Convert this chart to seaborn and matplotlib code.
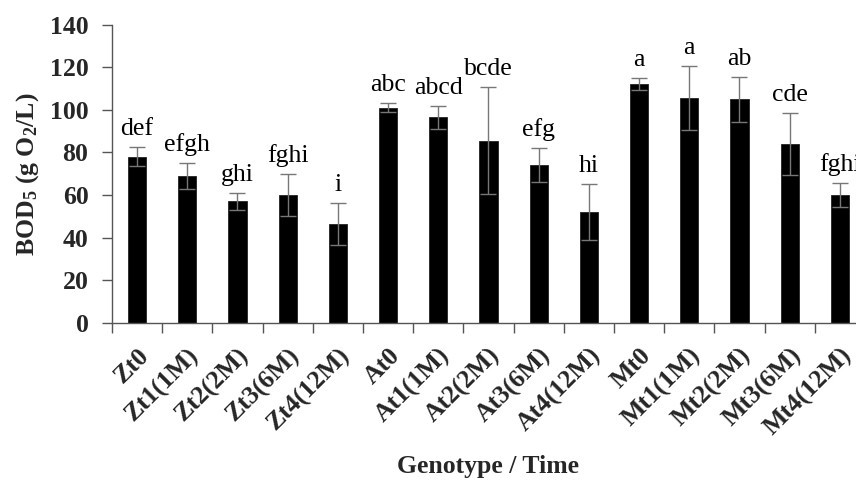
import matplotlib
matplotlib.use("Agg")
import matplotlib.pyplot as plt
import seaborn as sns
import numpy as np
import pandas as pd

# BOD5 by genotype and storage time
categories = ["Zt0", "Zt1(1M)", "Zt2(2M)", "Zt3(6M)", "Zt4(12M)",
              "At0", "At1(1M)", "At2(2M)", "At3(6M)", "At4(12M)",
              "Mt0", "Mt1(1M)", "Mt2(2M)", "Mt3(6M)", "Mt4(12M)"]
bod5 = [78, 69, 57, 60, 46.5, 101, 96.5, 85.5, 74, 52, 112, 105.5, 105, 84, 60]
sd = [4.5, 6, 3.8, 10, 10, 2, 5.5, 25, 8, 13, 2.8, 15, 10.5, 14.5, 5.5]
letters = ["def", "efgh", "ghi", "fghi", "i", "abc", "abcd", "bcde", "efg", "hi",
           "a", "a", "ab", "cde", "fghi"]
y_ticks = [0, 20, 40, 60, 80, 100, 120, 140]

sns.set_theme(style="white")
plt.rcParams["font.family"] = ["Liberation Serif", "DejaVu Serif"]
plt.rcParams["mathtext.fontset"] = "custom"
plt.rcParams["mathtext.rm"] = "Liberation Serif:bold"
plt.rcParams["mathtext.bf"] = "Liberation Serif:bold"
plt.rcParams["mathtext.it"] = "Liberation Serif:bold"

df = pd.DataFrame({"group": categories, "bod": bod5})

fig = plt.figure(figsize=(8.56, 4.82), dpi=100)
ax = fig.add_axes([112 / 856, 1 - 323 / 482, 753 / 856, (323 - 24.5) / 482])

sns.barplot(data=df, x="group", y="bod", color="black", width=0.36,
            errorbar=None, edgecolor="#222222", linewidth=0.6, ax=ax,
            saturation=1)
xpos = np.arange(len(categories))
ax.errorbar(xpos, bod5, yerr=sd, fmt="none", ecolor="#777777",
            elinewidth=1.0, capsize=6, capthick=1.0)

for x, v, e, lab in zip(xpos, bod5, sd, letters):
    ax.annotate(lab, (x, v + e), xytext=(0, 5), textcoords="offset points",
                ha="center", va="bottom", fontsize=18.5, color="black")

ax.set_xlim(-0.5, len(categories) - 0.5)
ax.set_ylim(0, 140)
ax.set_yticks(y_ticks)
ax.set_yticklabels([str(t) for t in y_ticks], fontsize=18.5, fontweight="bold")

ax.set_xticks(xpos)
ax.set_xticklabels(categories, rotation=45, ha="right", va="top",
                   rotation_mode="anchor", fontsize=18.5, fontweight="bold")
ax.set_xticks(np.arange(len(categories) + 1) - 0.5, minor=True)
ax.tick_params(axis="x", which="major", length=0, pad=15)
ax.tick_params(axis="x", which="minor", length=7, width=1, color="#555555",
               direction="out", bottom=True)
ax.tick_params(axis="y", which="major", length=7, width=1, color="#555555",
               direction="out", left=True, pad=10)

for s in ["top", "right"]:
    ax.spines[s].set_visible(False)
for s in ["left", "bottom"]:
    ax.spines[s].set_color("#555555")
    ax.spines[s].set_linewidth(1)

ax.set_ylabel(r"BOD$_5$ (g O$_2$/L)", fontsize=18.5, fontweight="bold",
              labelpad=6)
ax.set_xlabel("")
fig.text(488 / 856, 1 - 466 / 482, "Genotype / Time", ha="center",
         va="center", fontsize=18.5, fontweight="bold")

fig.savefig("out.png", dpi=100)
